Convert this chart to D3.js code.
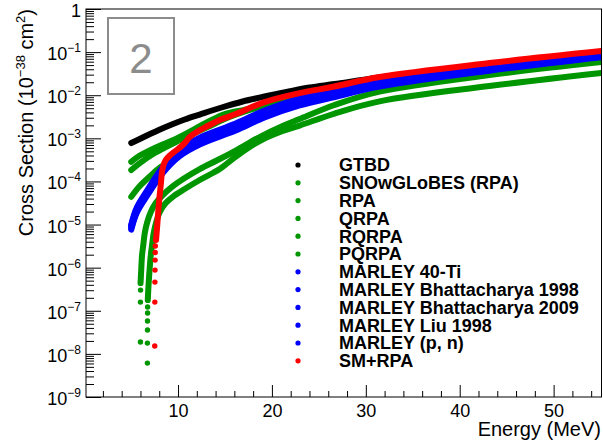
<!DOCTYPE html>
<html>
<head>
<meta charset="utf-8">
<script src="https://cdn.jsdelivr.net/npm/d3@7/dist/d3.min.js"></script>
<style>
body{margin:0;background:#fff;}
svg text{font-family:"Liberation Sans",Arial,Helvetica,sans-serif;}
</style>
</head>
<body>
<svg width="603" height="443"></svg>
<script>
// ---- data (energy in MeV, cross section in 1e-38 cm^2) ----
var gtbdE  = [5.02, 6.46, 7.84, 9.33, 10.71, 12.31, 14.65, 16.88, 19.22, 21.56, 24.01, 26.67, 31.46, 43.16, 55.07];
var gtbdXS = [7.78e-4, 1.10e-3, 1.52e-3, 2.09e-3, 2.73e-3, 3.56e-3, 5.19e-3, 7.14e-3, 9.33e-3, 1.19e-2, 1.51e-2, 1.82e-2, 2.58e-2, 5.30e-2, 0.1005];

var snowE  = [5.02, 5.93, 7.52, 9.97, 13.16, 14.97, 17.63, 20.82, 26.67, 31.46, 43.16, 55.07];
var snowXS = [2.86e-4, 3.99e-4, 5.96e-4, 1.02e-3, 2.39e-3, 3.66e-3, 4.91e-3, 7.94e-3, 1.32e-2, 2.08e-2, 4.51e-2, 8.57e-2];

var rpaE  = [5.02, 5.93, 7.52, 9.97, 13.16, 14.97, 17.63, 20.82, 26.67, 31.46, 43.16, 55.07];
var rpaXS = [1.84e-4, 2.67e-4, 4.56e-4, 8.66e-4, 1.83e-3, 2.81e-3, 4.54e-3, 7.14e-3, 1.19e-2, 1.92e-2, 4.16e-2, 7.91e-2];

var qrpaE  = [5.02, 5.93, 6.99, 8.16, 9.65, 12.31, 16.14, 19.22, 22.95, 26.67, 31.46, 43.16, 55.07];
var qrpaXS = [4.42e-5, 7.82e-5, 1.30e-4, 2.16e-4, 3.49e-4, 8.20e-4, 1.73e-3, 3.29e-3, 6.41e-3, 1.01e-2, 1.73e-2, 3.85e-2, 7.50e-2];

var rqrpaThrE  = [6.00, 6.00, 6.01];
var rqrpaThrXS = [1.88e-8, 1.59e-7, 3.02e-7];
var rqrpaE  = [6.01, 6.09, 6.17, 6.30, 6.46, 6.72, 7.10, 7.63, 8.37, 9.33, 10.71, 12.31, 14.44, 16.24, 18.69, 21.14, 22.95, 26.67, 31.46, 43.16, 55.07];
var rqrpaXS = [4.39e-7, 9.79e-7, 1.96e-6, 3.34e-6, 6.35e-6, 1.14e-5, 1.95e-5, 3.15e-5, 4.83e-5, 7.41e-5, 1.20e-4, 1.94e-4, 3.31e-4, 5.36e-4, 1.07e-3, 1.93e-3, 2.81e-3, 5.93e-3, 1.21e-2, 2.94e-2, 5.89e-2];

var pqrpaThrE  = [6.74, 6.74, 6.75, 6.75, 6.76, 6.76];
var pqrpaThrXS = [6.12e-9, 1.78e-8, 3.57e-8, 5.77e-8, 8.85e-8, 1.22e-7];
var pqrpaE  = [6.78, 6.86, 6.97, 7.10, 7.26, 7.41, 7.68, 8.05, 8.69, 9.54, 10.71, 12.31, 14.44, 16.24, 18.69, 21.14, 22.95, 26.67, 31.46, 43.16, 55.07];
var pqrpaXS = [1.77e-7, 3.94e-7, 8.79e-7, 1.96e-6, 3.72e-6, 6.35e-6, 1.14e-5, 1.95e-5, 3.15e-5, 4.58e-5, 6.67e-5, 1.08e-4, 1.94e-4, 3.88e-4, 8.66e-4, 1.48e-3, 1.98e-3, 3.76e-3, 7.21e-3, 1.63e-2, 3.27e-2];

var marleyE = [5.02, 5.61, 6.78, 8.37, 10.18, 12.31, 16.14, 19.22, 22.95, 26.67, 31.46, 43.16, 55.07];
var marleyTiXS   = [1.00e-5, 2.49e-5, 6.52e-5, 2.16e-4, 5.36e-4, 1.04e-3, 2.20e-3, 4.41e-3, 8.36e-3, 1.25e-2, 2.09e-2, 4.45e-2, 8.45e-2];
var marleyB98XS  = [9.38e-6, 2.32e-5, 6.08e-5, 2.00e-4, 4.94e-4, 9.48e-4, 2.00e-3, 4.02e-3, 7.62e-3, 1.16e-2, 1.95e-2, 4.25e-2, 8.22e-2];
var marleyB09XS  = [8.75e-6, 2.17e-5, 5.68e-5, 1.84e-4, 4.56e-4, 8.65e-4, 1.83e-3, 3.66e-3, 6.95e-3, 1.07e-2, 1.82e-2, 4.06e-2, 8.00e-2];
var marleyLiuXS  = [8.17e-6, 2.02e-5, 5.30e-5, 1.70e-4, 4.21e-4, 7.89e-4, 1.67e-3, 3.34e-3, 6.34e-3, 9.84e-3, 1.70e-2, 3.87e-2, 7.78e-2];
var marleyPnXS   = [7.62e-6, 1.89e-5, 4.94e-5, 1.57e-4, 3.88e-4, 7.19e-4, 1.52e-3, 3.05e-3, 5.78e-3, 9.08e-3, 1.58e-2, 3.70e-2, 7.57e-2];

var smThrE  = [7.52, 7.53, 7.54, 7.55, 7.56, 7.57, 7.58];
var smThrXS = [1.52e-8, 1.59e-7, 4.63e-7, 8.79e-7, 1.50e-6, 2.24e-6, 3.17e-6];
var smE  = [7.66, 7.79, 7.95, 8.16, 8.37, 8.69, 9.12, 9.86, 10.71, 11.24, 11.99, 13.16, 14.44, 16.14, 19.22, 22.95, 26.67, 31.46, 43.16, 55.07];
var smXS = [4.37e-6, 9.73e-6, 2.83e-5, 8.24e-5, 2.05e-4, 3.14e-4, 3.99e-4, 5.35e-4, 7.78e-4, 1.07e-3, 1.40e-3, 1.93e-3, 2.66e-3, 3.66e-3, 6.95e-3, 1.12e-2, 1.59e-2, 2.64e-2, 5.58e-2, 0.106];

var names = ["GTBD", "SNOwGLoBES (RPA)", "RPA", "QRPA", "RQRPA", "PQRPA",
  "MARLEY 40-Ti", "MARLEY Bhattacharya 1998", "MARLEY Bhattacharya 2009",
  "MARLEY Liu 1998", "MARLEY (p, n)", "SM+RPA"];
var colors = ["#000000", "#009600", "#009600", "#009600", "#009600", "#009600",
  "#0000ff", "#0000ff", "#0000ff", "#0000ff", "#0000ff", "#ff0000"];

var xMajor = [10, 20, 30, 40, 50];
var yDecades = [-9, -8, -7, -6, -5, -4, -3, -2, -1, 0];

function pts(E, XS){ return E.map(function(e, i){ return {e: e, s: XS[i]}; }); }

var series = [
  {curve: pts(gtbdE, gtbdXS), dots: []},
  {curve: pts(snowE, snowXS), dots: []},
  {curve: pts(rpaE, rpaXS), dots: []},
  {curve: pts(qrpaE, qrpaXS), dots: []},
  {curve: pts(rqrpaE, rqrpaXS), dots: pts(rqrpaThrE, rqrpaThrXS)},
  {curve: pts(pqrpaE, pqrpaXS), dots: pts(pqrpaThrE, pqrpaThrXS)},
  {curve: pts(marleyE, marleyTiXS), dots: []},
  {curve: pts(marleyE, marleyB98XS), dots: []},
  {curve: pts(marleyE, marleyB09XS), dots: []},
  {curve: pts(marleyE, marleyLiuXS), dots: []},
  {curve: pts(marleyE, marleyPnXS), dots: []},
  {curve: pts(smE, smXS), dots: pts(smThrE, smThrXS)}
];
series.forEach(function(d, i){ d.name = names[i]; d.color = colors[i]; });

// ---- layout ----
var padL = 86, padR = 601.5, padT = 9, padB = 397;
var svg = d3.select('svg');

var x = d3.scaleLinear().domain([0.2, 55.1]).range([padL, padR]);
var y = d3.scaleLog().domain([1e-9, 1]).range([padB, padT]);

svg.append('clipPath').attr('id', 'plotclip')
  .append('rect').attr('x', padL).attr('y', padT)
  .attr('width', padR - padL).attr('height', padB - padT);

var plot = svg.append('g').attr('clip-path', 'url(#plotclip)');

var line = d3.line()
  .x(function(d){ return x(d.e); })
  .y(function(d){ return y(d.s); })
  .curve(d3.curveCatmullRom.alpha(0.5));

var g = plot.selectAll('.series')
  .data(series)
  .enter()
  .append('g')
    .attr('class', 'series');

g.append('path')
  .attr('d', function(d){ return line(d.curve); })
  .attr('fill', 'none')
  .attr('stroke', function(d){ return d.color; })
  .attr('stroke-width', 6)
  .attr('stroke-linecap', 'round')
  .attr('stroke-linejoin', 'round');

g.selectAll('circle')
  .data(function(d){ return d.dots.map(function(p){ return {e: p.e, s: p.s, c: d.color}; }); })
  .enter()
  .append('circle')
    .attr('cx', function(d){ return x(d.e); })
    .attr('cy', function(d){ return y(d.s); })
    .attr('r', 2.7)
    .attr('fill', function(d){ return d.c; });

// ---- frame ----
svg.append('rect')
  .attr('x', padL).attr('y', padT)
  .attr('width', padR - padL).attr('height', padB - padT)
  .attr('fill', 'none').attr('stroke', '#000').attr('stroke-width', 1);

// ---- x axis ----
var xMinor = d3.range(2, 56, 2).filter(function(v){ return xMajor.indexOf(v) < 0; });
svg.append('g')
  .attr('transform', 'translate(0,' + padB + ')')
  .call(d3.axisBottom(x).tickValues(xMinor).tickSize(-6).tickSizeOuter(0).tickFormat(''))
  .call(function(a){ a.select('.domain').remove(); });
var xa = svg.append('g')
  .attr('transform', 'translate(0,' + padB + ')')
  .call(d3.axisBottom(x).tickValues(xMajor).tickSize(-12).tickSizeOuter(0).tickPadding(7));
xa.select('.domain').remove();
xa.selectAll('text').attr('font-size', 18).attr('fill', '#000');
xa.attr('font-family', null);

// ---- y axis ----
var yMinor = y.ticks().filter(function(v){
  var l = Math.log10(v); return Math.abs(l - Math.round(l)) > 1e-6;
});
svg.append('g')
  .attr('transform', 'translate(' + padL + ',0)')
  .call(d3.axisLeft(y).tickValues(yMinor).tickSize(-8).tickSizeOuter(0).tickFormat(''))
  .call(function(a){ a.select('.domain').remove(); });
svg.append('g')
  .attr('transform', 'translate(' + padL + ',0)')
  .call(d3.axisLeft(y).tickValues(yDecades.map(function(k){ return Math.pow(10, k); }))
    .tickSize(-15).tickSizeOuter(0).tickFormat(''))
  .call(function(a){ a.select('.domain').remove(); });

var ylab = svg.append('g').selectAll('text')
  .data(yDecades)
  .enter()
  .append('text')
    .attr('x', 81)
    .attr('y', function(k){ return y(Math.pow(10, k)) + 8; })
    .attr('text-anchor', 'end')
    .attr('font-size', 18);
ylab.each(function(k){
  var t = d3.select(this);
  if (k === 0) { t.text('1'); return; }
  t.append('tspan').text('10');
  t.append('tspan').attr('dy', -8).attr('font-size', 12).text('\u2212' + (-k));
});

// ---- axis titles ----
svg.append('text')
  .attr('x', 601).attr('y', 436)
  .attr('text-anchor', 'end')
  .attr('font-size', 20)
  .text('Energy (MeV)');

var yt = svg.append('text')
  .attr('transform', 'translate(33,9) rotate(-90)')
  .attr('text-anchor', 'end')
  .attr('font-size', 20);
yt.append('tspan').text('Cross Section (10');
yt.append('tspan').attr('dy', -8).attr('font-size', 13).text('\u221238');
yt.append('tspan').attr('dy', 8).text(' cm');
yt.append('tspan').attr('dy', -8).attr('font-size', 13).text('2');
yt.append('tspan').attr('dy', 8).text(')');

// ---- panel label ----
svg.append('rect')
  .attr('x', 108).attr('y', 18).attr('width', 66).attr('height', 76)
  .attr('fill', '#fff').attr('stroke', '#8c8c8c').attr('stroke-width', 2);
svg.append('text')
  .attr('x', 141).attr('y', 73)
  .attr('text-anchor', 'middle')
  .attr('font-size', 42).attr('fill', '#8c8c8c')
  .text('2');

// ---- legend ----
var leg = svg.append('g').selectAll('g')
  .data(series)
  .enter()
  .append('g')
    .attr('transform', function(d, i){ return 'translate(298,' + (165 + i * 17.8) + ')'; });
leg.append('circle').attr('r', 2.6).attr('fill', function(d){ return d.color; });
leg.append('text')
  .attr('x', 41).attr('dy', '0.36em')
  .attr('font-size', 18).attr('font-weight', 'bold')
  .text(function(d){ return d.name; });
</script>
</body>
</html>
